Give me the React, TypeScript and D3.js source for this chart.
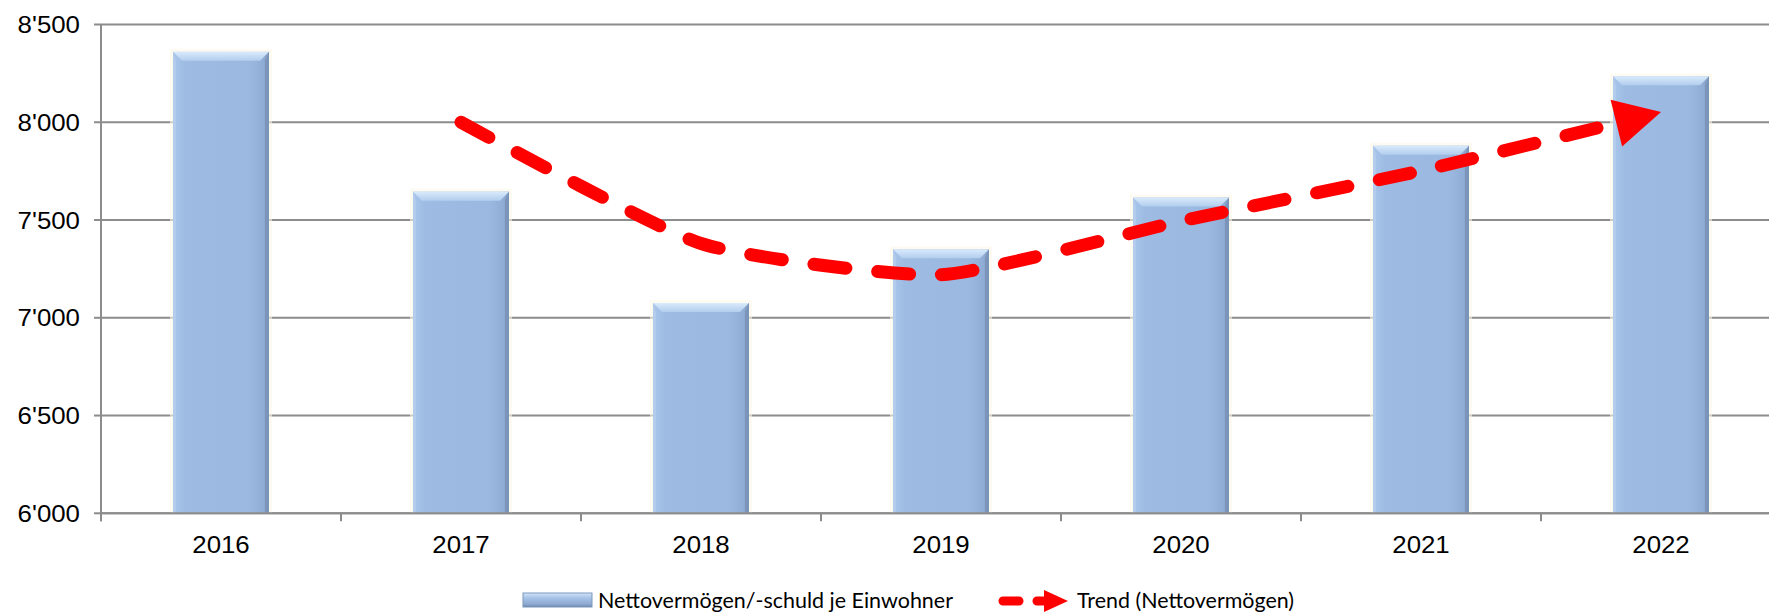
import React, { useLayoutEffect, useRef, useState } from 'react';
import * as d3 from 'd3';

// ---- data ----
const years = ['2016', '2017', '2018', '2019', '2020', '2021', '2022'];
const netAssets = [8360, 7645, 7075, 7350, 7615, 7880, 8235];
const trendYears = ['2017', '2018', '2019', '2020', '2021', '2022'];
const trendValues = [8000, 7380, 7220, 7495, 7752, 8052];
const yTicks = [6000, 6500, 7000, 7500, 8000, 8500];
const barLabel = 'Nettovermögen/-schuld je Einwohner';
const trendLabel = 'Trend (Nettovermögen)';

const W = 1769;
const H = 612;
const PLOT = { left: 101, right: 1781, top: 24.5, bottom: 513.3 };

const fmt = d3.formatLocale({ decimal: '.', thousands: "'", grouping: [3], currency: ['', ''] }).format(',');

const x = d3.scaleBand<string>().domain(years).range([PLOT.left, PLOT.right]).paddingInner(0.6).paddingOuter(0.3);
const y = d3.scaleLinear().domain([6000, 8500]).range([PLOT.bottom, PLOT.top]);
const step = x.step();
const bw = x.bandwidth();
const cx = (yr: string) => (x(yr) as number) + bw / 2;

const trendPath = d3
  .line<number>()
  .x((_, i) => cx(trendYears[i]))
  .y((v) => y(v))
  .curve(d3.curveCardinal.tension(0.45))(trendValues) as string;

const GRID = '#8c8c8c';
const RED = '#ff0000';
const AXIS_FONT = '"Liberation Sans", Arial, sans-serif';
const LEG_FONT = 'Lato, "Open Sans", sans-serif';

function Bar({ x0, y0, w, h }: { x0: number; y0: number; w: number; h: number }) {
  const bev = Math.min(9, h / 2);
  const rb = 4;
  return (
    <g>
      <rect x={x0 - 3} y={y0 - 3} width={w + 6} height={h + 3} fill="#fbf8e8" opacity={0.6} />
      <rect x={x0} y={y0} width={w} height={h} fill="url(#barBody)" />
      <polygon
        points={`${x0},${y0} ${x0 + w},${y0} ${x0 + w - bev},${y0 + bev} ${x0 + bev},${y0 + bev}`}
        fill="url(#barTop)"
      />
      <polygon
        points={`${x0 + w},${y0} ${x0 + w},${y0 + h} ${x0 + w - rb},${y0 + h - 2} ${x0 + w - rb},${y0 + bev}`}
        fill="#7b95ba"
      />
      <polygon
        points={`${x0},${y0} ${x0},${y0 + h} ${x0 + 3},${y0 + h - 2} ${x0 + 3},${y0 + bev}`}
        fill="#b3cced"
      />
    </g>
  );
}

export default function App() {
  const pathRef = useRef<SVGPathElement>(null);
  const [trend, setTrend] = useState<{ dash: string; arrow: string } | null>(null);

  useLayoutEffect(() => {
    const node = pathRef.current;
    if (!node) return;
    const L = node.getTotalLength();
    const aLen = 46;
    const aHalf = 24;
    const tip = node.getPointAtLength(L);
    const base = node.getPointAtLength(L - aLen);
    const dx = tip.x - base.x;
    const dy = tip.y - base.y;
    const d = Math.hypot(dx, dy);
    const ux = dx / d;
    const uy = dy / d;
    const bx = tip.x - ux * aLen;
    const by = tip.y - uy * aLen;
    const arrow = `${tip.x},${tip.y} ${bx - uy * aHalf},${by + ux * aHalf} ${bx + uy * aHalf},${by - ux * aHalf}`;
    const lc = L - 42;
    const parts: number[] = [];
    let pos = 0;
    while (pos < lc) {
      const dash = Math.min(32, lc - pos);
      parts.push(dash, 32);
      pos += 64;
    }
    parts[parts.length - 1] = L + 100;
    setTrend({ dash: parts.join(' '), arrow });
  }, []);

  return (
    <svg
      width={W}
      height={H}
      viewBox={`0 0 ${W} ${H}`}
      style={{ position: 'absolute', left: 0, top: 0, display: 'block', background: '#fff' }}
    >
      <defs>
        <linearGradient id="barBody" x1="0" x2="1" y1="0" y2="0">
          <stop offset="0%" stopColor="#a9c5ea" />
          <stop offset="12%" stopColor="#9ebce3" />
          <stop offset="80%" stopColor="#9bb9e0" />
          <stop offset="94%" stopColor="#90add5" />
          <stop offset="100%" stopColor="#7f99be" />
        </linearGradient>
        <linearGradient id="barTop" x1="0" x2="0" y1="0" y2="1">
          <stop offset="0%" stopColor="#d9eafb" />
          <stop offset="100%" stopColor="#b2cdee" />
        </linearGradient>
        <linearGradient id="legSw" x1="0" x2="0" y1="0" y2="1">
          <stop offset="0%" stopColor="#d2e4f8" />
          <stop offset="35%" stopColor="#a7c3e8" />
          <stop offset="80%" stopColor="#8ea9d0" />
          <stop offset="100%" stopColor="#6d86aa" />
        </linearGradient>
      </defs>

      {/* gridlines */}
      {yTicks.map((t) => (
        <line key={`g${t}`} x1={PLOT.left} x2={W} y1={y(t)} y2={y(t)} stroke={GRID} strokeWidth={2} />
      ))}

      {/* y axis */}
      <line x1={PLOT.left} x2={PLOT.left} y1={PLOT.top} y2={PLOT.bottom + 8} stroke={GRID} strokeWidth={2} />
      {yTicks.map((t) => (
        <g key={`yt${t}`}>
          <line x1={PLOT.left - 7} x2={PLOT.left} y1={y(t)} y2={y(t)} stroke={GRID} strokeWidth={2} />
          <text
            transform={`translate(80,${y(t) + 8.5}) scale(1.1,1)`}
            textAnchor="end"
            fontFamily={AXIS_FONT}
            fontSize={23.5}
            fill="#000"
          >
            {fmt(t)}
          </text>
        </g>
      ))}

      {/* x axis ticks */}
      {years.map((yr) => (
        <line
          key={`xt${yr}`}
          x1={cx(yr) - step / 2}
          x2={cx(yr) - step / 2}
          y1={PLOT.bottom}
          y2={PLOT.bottom + 8}
          stroke={GRID}
          strokeWidth={2}
        />
      ))}

      {/* bars */}
      {years.map((yr, i) => (
        <Bar key={`b${yr}`} x0={x(yr) as number} y0={y(netAssets[i])} w={bw} h={PLOT.bottom - y(netAssets[i])} />
      ))}

      {/* x axis line */}
      <line x1={PLOT.left} x2={W} y1={PLOT.bottom} y2={PLOT.bottom} stroke={GRID} strokeWidth={2} />

      {/* x labels */}
      {years.map((yr) => (
        <text
          key={`xl${yr}`}
          transform={`translate(${cx(yr)},553) scale(1.1,1)`}
          textAnchor="middle"
          fontFamily={AXIS_FONT}
          fontSize={23.5}
          fill="#000"
        >
          {yr}
        </text>
      ))}

      {/* trend */}
      <path
        ref={pathRef}
        d={trendPath}
        fill="none"
        stroke={RED}
        strokeWidth={13}
        strokeLinecap="round"
        strokeDasharray={trend ? trend.dash : '32 32'}
        opacity={trend ? 1 : 0}
      />
      {trend && <polygon points={trend.arrow} fill={RED} />}

      {/* legend */}
      <rect x={523} y={593} width={69} height={14} fill="url(#legSw)" stroke="#7d97bd" strokeWidth={1} />
      <text x={598} y={608} fontFamily={LEG_FONT} fontSize={22} textLength={355} lengthAdjust="spacingAndGlyphs" fill="#000">
        {barLabel}
      </text>
      <line x1={1003} x2={1043} y1={601} y2={601} stroke={RED} strokeWidth={9} strokeLinecap="round" strokeDasharray="16 18" />
      <polygon points="1068,601 1044,590 1044,612" fill={RED} />
      <text x={1077} y={608} fontFamily={LEG_FONT} fontSize={22} textLength={217} lengthAdjust="spacingAndGlyphs" fill="#000">
        {trendLabel}
      </text>
    </svg>
  );
}
